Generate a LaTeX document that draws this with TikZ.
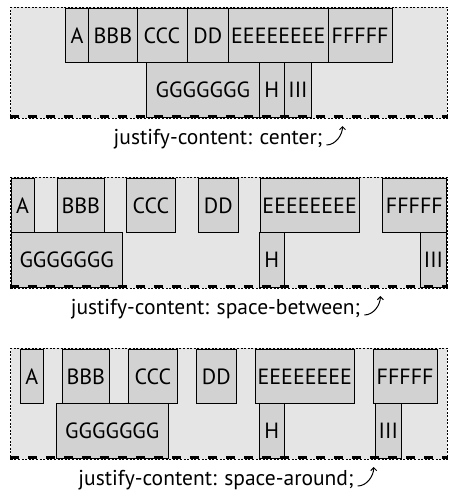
\documentclass[tikz,border=0pt]{standalone}
\usepackage{fontspec}
\setmainfont{PT Sans}
\usepackage{xcolor}
\definecolor{ColBox}{RGB}{229,229,229}
\definecolor{ColItem}{RGB}{210,210,210}
\usepackage{tikz}
\usetikzlibrary{arrows.meta}
\tikzstyle{Container}=[draw=black,fill=ColBox,line width=0.7pt,
dash pattern=on 2pt off 1.6pt,inner sep=0pt]
\tikzstyle{Item}=[draw=black,fill=ColItem,line width=1pt,inner sep=0pt,
minimum height=54.5pt,font=\fontsize{22}{26}\selectfont]
\tikzstyle{Bottom}=[line width=3.5pt,dash pattern=on 9pt off 9pt]
\tikzstyle{Caption}=[inner sep=0pt,font=\fontsize{21.5}{26}\selectfont]
\tikzstyle{Pointer}=[line width=1pt,-{Straight Barb[length=3pt,width=6pt]}]

\begin{document}
\begin{tikzpicture}[x=1pt,y=-1pt]
    \useasboundingbox (0,0) rectangle (459,496);
    % justify-content: center
    \node[Container,minimum width=436.6pt,minimum height=111pt](box1)at(229,62.8){};
    \node[Item,minimum width=23.4pt](a1)at(77.00,35.6){A};
    \node[Item,minimum width=48.3pt](b1)at(112.85,35.6){BBB};
    \node[Item,minimum width=50.0pt](c1)at(162.00,35.6){CCC};
    \node[Item,minimum width=41.7pt](d1)at(207.85,35.6){DD};
    \node[Item,minimum width=99.3pt](e1)at(278.35,35.6){EEEEEEEE};
    \node[Item,minimum width=64.3pt](f1)at(360.15,35.6){FFFFF};
    \node[Item,minimum width=112.3pt](g1)at(202.85,90.1){GGGGGGG};
    \node[Item,minimum width=25.7pt](h1)at(271.85,90.1){H};
    \node[Item,minimum width=26.6pt](i1)at(298.00,90.1){III};
    \draw[Bottom]([yshift=2pt]box1.south west)--([yshift=2pt]box1.south east);
    \node[Caption](cap1)at(218,139){justify-content: center;};
    \coordinate(tail1)at([xshift=4pt,yshift=-6pt]cap1.east);
    \coordinate(tip1)at([xshift=20pt,yshift=13pt]cap1.east);
    \draw[Pointer](tail1).. controls +(9,0) and +(0,9) ..(tip1);
    % justify-content: space-between
    \node[Container,minimum width=436.6pt,minimum height=111pt](box2)at(229,232.8){};
    \node[Item,minimum width=23.3pt](a2)at(22.65,205.6){A};
    \node[Item,minimum width=47.0pt](b2)at(80.80,205.6){BBB};
    \node[Item,minimum width=49.0pt](c2)at(150.80,205.6){CCC};
    \node[Item,minimum width=40.0pt](d2)at(218.30,205.6){DD};
    \node[Item,minimum width=99.3pt](e2)at(309.65,205.6){EEEEEEEE};
    \node[Item,minimum width=64.7pt](f2)at(414.35,205.6){FFFFF};
    \node[Item,minimum width=111.3pt](g2)at(66.65,260.1){GGGGGGG};
    \node[Item,minimum width=25.0pt](h2)at(271.80,260.1){H};
    \node[Item,minimum width=26.4pt](i2)at(433.50,260.1){III};
    \draw[Bottom]([yshift=2pt]box2.south west)--([yshift=2pt]box2.south east);
    \node[Caption](cap2)at(215.5,309){justify-content: space-between;};
    \coordinate(tail2)at([xshift=4pt,yshift=-6pt]cap2.east);
    \coordinate(tip2)at([xshift=20pt,yshift=13pt]cap2.east);
    \draw[Pointer](tail2).. controls +(9,0) and +(0,9) ..(tip2);
    % justify-content: space-around
    \node[Container,minimum width=436.6pt,minimum height=111pt](box3)at(229,403.8){};
    \node[Item,minimum width=23.0pt](a3)at(31.80,376.6){A};
    \node[Item,minimum width=47.0pt](b3)at(85.80,376.6){BBB};
    \node[Item,minimum width=49.0pt](c3)at(152.80,376.6){CCC};
    \node[Item,minimum width=40.0pt](d3)at(216.30,376.6){DD};
    \node[Item,minimum width=99.0pt](e3)at(304.80,376.6){EEEEEEEE};
    \node[Item,minimum width=64.3pt](f3)at(405.15,376.6){FFFFF};
    \node[Item,minimum width=112.0pt](g3)at(112.30,431.1){GGGGGGG};
    \node[Item,minimum width=25.0pt](h3)at(271.80,431.1){H};
    \node[Item,minimum width=26.0pt](i3)at(388.30,431.1){III};
    \draw[Bottom]([yshift=2pt]box3.south west)--([yshift=2pt]box3.south east);
    \node[Caption](cap3)at(216,480){justify-content: space-around;};
    \coordinate(tail3)at([xshift=4pt,yshift=-6pt]cap3.east);
    \coordinate(tip3)at([xshift=20pt,yshift=13pt]cap3.east);
    \draw[Pointer](tail3).. controls +(9,0) and +(0,9) ..(tip3);
\end{tikzpicture}
\end{document}
